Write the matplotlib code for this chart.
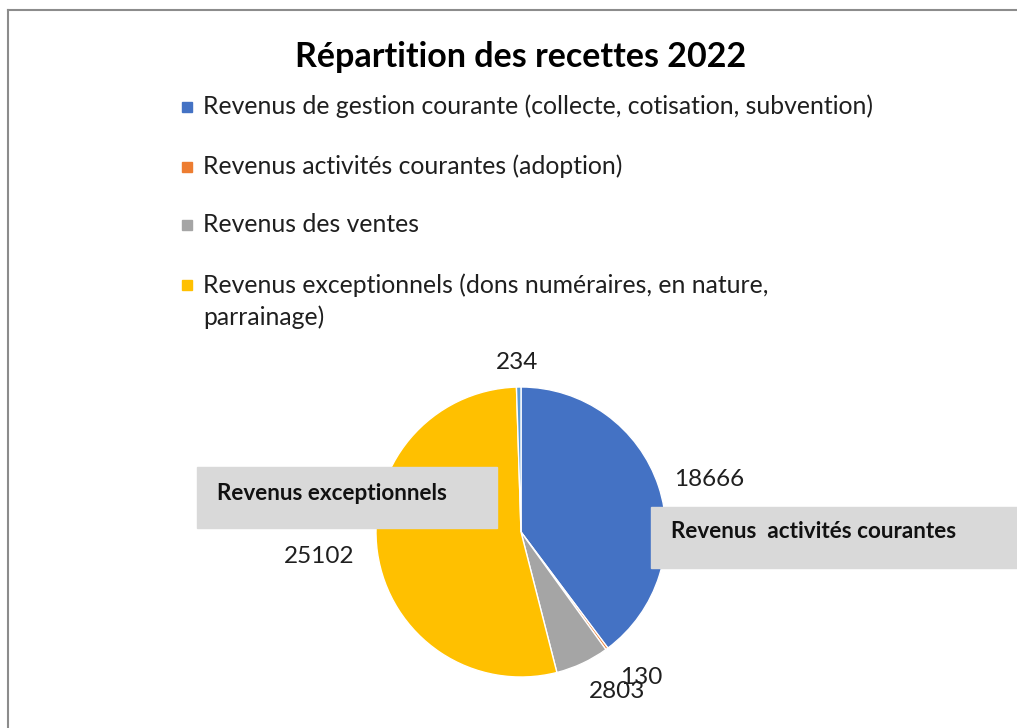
import matplotlib
matplotlib.use("Agg")
import matplotlib.pyplot as plt
from matplotlib.patches import Rectangle

# ---- data ----
title = "Répartition des recettes 2022"
legend_labels = [
    "Revenus de gestion courante (collecte, cotisation, subvention)",
    "Revenus activités courantes (adoption)",
    "Revenus des ventes",
    "Revenus exceptionnels (dons numéraires, en nature,\nparrainage)",
]
values = [18666, 130, 2803, 25102, 234]
colors = ["#4472C4", "#ED7D31", "#A5A5A5", "#FFC000", "#5B9BD5"]
legend_colors = colors[:4]
value_label_pos = [(1.30, 0.36), (0.83, -1.0), (0.66, -1.1), (-1.39, -0.17), (-0.03, 1.17)]
callouts = ["Revenus exceptionnels", "Revenus  activités courantes"]

W, H = 1017, 728
fig = plt.figure(figsize=(W / 100, H / 100), dpi=100)
fig.patch.set_facecolor("white")
FONT = "Lato"
TXT = "#1f1f1f"

def fx(px):
    return px / W

def fy(py):
    return 1 - py / H

# chart border (top and left visible)
fig.add_artist(plt.Line2D([fx(8), fx(1017)], [fy(10), fy(10)], color="#8c8c8c", lw=1.5))
fig.add_artist(plt.Line2D([fx(8), fx(8)], [fy(10), fy(728)], color="#8c8c8c", lw=1.5))

# title
fig.text(fx(521), fy(57), title, ha="center", va="center", fontsize=24.5,
         fontweight="bold", family=FONT, color="black")

# legend (manual)
leg_y = [107, 167, 225, 285]
line_gap = 33
for lab, col, y in zip(legend_labels, legend_colors, leg_y):
    fig.add_artist(Rectangle((fx(182), fy(y + 5)), fx(10), 10 / H, color=col,
                             transform=fig.transFigure))
    n_extra = lab.count("\n")
    fig.text(fx(203), fy(y + 7 + line_gap * n_extra), lab, ha="left", va="baseline",
             fontsize=17.8, family=FONT, color=TXT, linespacing=1.45)

# pie
cx, cy, r = 521, 532, 145
ax = fig.add_axes([fx(cx - r), 1 - (cy + r) / H, 2 * r / W, 2 * r / H])
ax.pie(values, colors=colors, startangle=90, counterclock=False,
       wedgeprops=dict(edgecolor="white", linewidth=1))
ax.set_xlim(-1, 1)
ax.set_ylim(-1, 1)
ax.set_aspect("equal")
ax.axis("off")

for v, (x, y) in zip(values, value_label_pos):
    ax.text(x, y, str(v), ha="center", va="center", fontsize=17.5, family=FONT,
            color=TXT, clip_on=False)

# callout boxes
fig.add_artist(Rectangle((fx(197), fy(528)), fx(300), 61 / H, color="#D9D9D9",
                         transform=fig.transFigure))
fig.text(fx(217), fy(493), callouts[0], ha="left", va="center", fontsize=16.2,
         fontweight="bold", family=FONT, color="#111111")
fig.add_artist(Rectangle((fx(651), fy(568)), fx(380), 61 / H, color="#D9D9D9",
                         transform=fig.transFigure))
fig.text(fx(671), fy(532), callouts[1], ha="left", va="center", fontsize=16.2,
         fontweight="bold", family=FONT, color="#111111")

fig.savefig("out.png", dpi=100, facecolor="white")
